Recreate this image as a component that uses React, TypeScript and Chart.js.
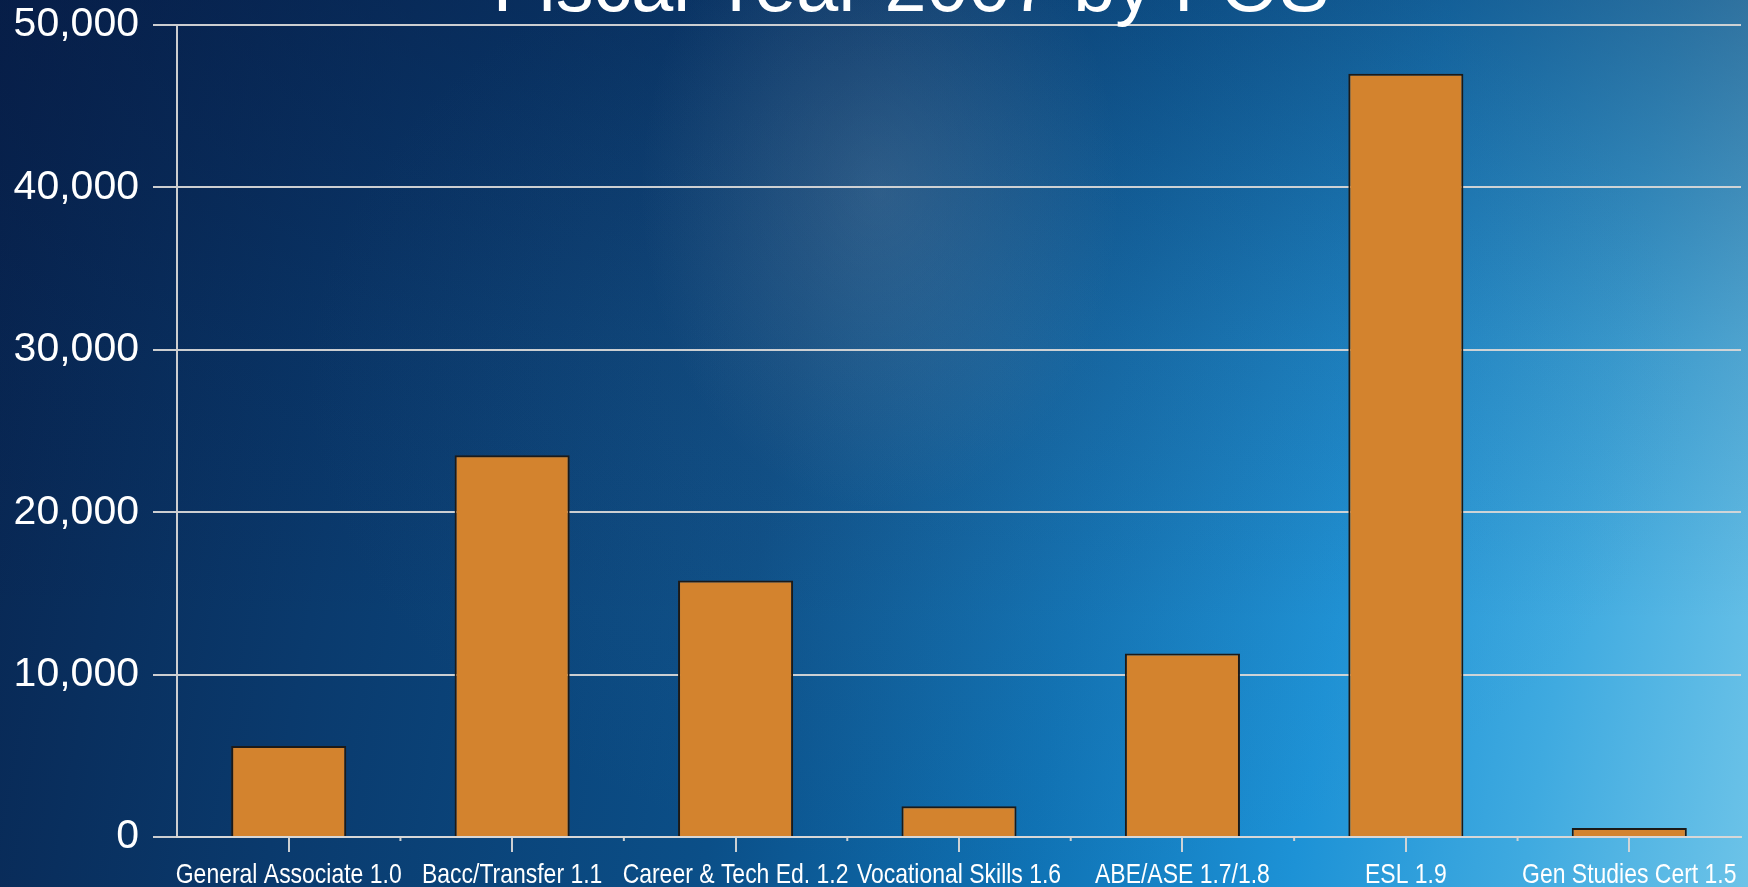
import React, { useEffect, useRef } from "react";
import { Chart, registerables } from "chart.js";

Chart.register(...registerables);

const TITLE = "Fiscal Year 2007 by FOS";
const categories = [
  "General Associate 1.0",
  "Bacc/Transfer 1.1",
  "Career & Tech Ed. 1.2",
  "Vocational Skills 1.6",
  "ABE/ASE 1.7/1.8",
  "ESL 1.9",
  "Gen Studies Cert 1.5",
];
const enrollments = [5600, 23500, 15800, 1900, 11300, 47000, 550];
const yTicks = [0, 10000, 20000, 30000, 40000, 50000];

const GRID = "rgba(215,215,215,0.95)";

const titlePlugin = {
  id: "offTitle",
  afterDraw(chart: any) {
    const ctx = chart.ctx;
    ctx.save();
    ctx.font = "75.5px 'Liberation Sans', Arial, sans-serif";
    ctx.fillStyle = "#ffffff";
    ctx.textAlign = "center";
    ctx.textBaseline = "alphabetic";
    ctx.fillText(TITLE, 911, 10.5);
    ctx.restore();
  },
};

const xLabelPlugin = {
  id: "xLabels",
  afterDraw(chart: any) {
    const x = chart.scales.x;
    const ctx = chart.ctx;
    const base = chart.chartArea.bottom + 46;
    ctx.save();
    ctx.font = "28px 'Liberation Sans', Arial, sans-serif";
    ctx.fillStyle = "#ffffff";
    ctx.textAlign = "center";
    ctx.textBaseline = "alphabetic";
    categories.forEach((label, i) => {
      const px = x.getPixelForValue(i);
      ctx.save();
      ctx.translate(px, base);
      ctx.scale(0.82, 1);
      ctx.fillText(label, 0, 0);
      ctx.restore();
    });
    ctx.restore();
  },
};

const minorTickPlugin = {
  id: "minorTicks",
  afterDatasetsDraw(chart: any) {
    const x = chart.scales.x;
    const ctx = chart.ctx;
    ctx.save();
    ctx.strokeStyle = GRID;
    ctx.lineWidth = 2;
    for (let i = 1; i < categories.length; i++) {
      const px = x.getPixelForValue(i - 0.5);
      ctx.beginPath();
      ctx.moveTo(px, chart.chartArea.bottom);
      ctx.lineTo(px, chart.chartArea.bottom + 4);
      ctx.stroke();
    }
    ctx.restore();
  },
};

export default function App() {
  const ref = useRef<HTMLCanvasElement>(null);
  useEffect(() => {
    document.body.style.margin = "0";
    const chart = new Chart(ref.current!, {
      type: "bar",
      data: {
        labels: categories,
        datasets: [
          {
            data: enrollments,
            backgroundColor: "#D3832E",
            borderColor: "#1c1a18",
            borderWidth: 2,
            categoryPercentage: 1,
            barPercentage: 0.515,
          },
        ],
      },
      options: {
        animation: false,
        responsive: true,
        maintainAspectRatio: false,
        layout: { padding: { top: 25, right: 7, left: 0, bottom: 0 } },
        plugins: { legend: { display: false }, tooltip: { enabled: false }, title: { display: false } },
        scales: {
          x: {
            offset: true,
            afterFit(scale: any) {
              scale.height = 50;
              scale.paddingLeft = 0;
              scale.paddingRight = 0;
            },
            grid: {
              display: true,
              drawOnChartArea: false,
              drawTicks: true,
              tickLength: 15,
              color: GRID,
              lineWidth: 2,
              offset: false,
            },
            border: { display: true, color: GRID, width: 2 },
            ticks: { display: false, autoSkip: false, maxRotation: 0, minRotation: 0 },
          },
          y: {
            min: 0,
            max: 50000,
            afterFit(scale: any) {
              scale.width = 177;
              scale.paddingTop = 0;
              scale.paddingBottom = 0;
            },
            afterBuildTicks(scale: any) {
              scale.ticks = yTicks.map((v) => ({ value: v }));
            },
            grid: {
              color: GRID,
              lineWidth: 2,
              drawTicks: true,
              tickLength: 24,
            },
            border: { display: true, color: GRID, width: 2 },
            ticks: {
              padding: 14,
              color: "#ffffff",
              font: { family: "'Liberation Sans', Arial, sans-serif", size: 41 },
              callback: (v: any) => Number(v).toLocaleString("en-US"),
            },
          },
        },
      },
      plugins: [titlePlugin, xLabelPlugin, minorTickPlugin],
    });
    return () => chart.destroy();
  }, []);

  const bg = [
    "radial-gradient(ellipse 240px 320px at 880px 190px, rgba(150,165,180,0.22), rgba(150,165,180,0) 100%)",
    "radial-gradient(ellipse 700px 500px at 1000px 380px, rgba(90,120,150,0.14), rgba(90,120,150,0) 100%)",
    "linear-gradient(180deg, rgba(5,20,60,0.40) 0%, rgba(5,20,60,0.12) 40%, rgba(5,20,60,0) 70%)",
    "linear-gradient(100deg, #08244f 0%, #0a3a6d 22%, #0b4f88 45%, #0f72b4 62%, #1d92d6 76%, #3faae0 88%, #6cc3e8 100%)",
  ].join(", ");

  return (
    <div style={{ position: "relative", width: 1748, height: 887, overflow: "hidden", background: bg }}>
      <canvas ref={ref} />
    </div>
  );
}
